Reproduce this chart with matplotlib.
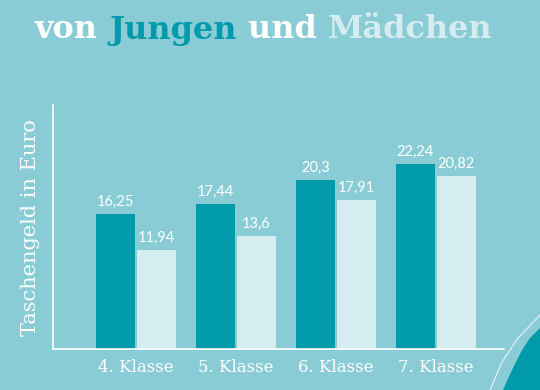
import matplotlib.pyplot as plt
import numpy as np
from matplotlib.patches import Polygon

# data
klassen = ['4. Klasse', '5. Klasse', '6. Klasse', '7. Klasse']
jungen = [16.25, 17.44, 20.3, 22.24]
maedchen = [11.94, 13.6, 17.91, 20.82]

bg = '#8accd6'
teal = '#009aab'
pale = '#d5edf1'

fig = plt.figure(figsize=(5.4, 3.9), dpi=100, facecolor=bg)
ax = fig.add_axes([0.098, 0.105, 0.835, 0.625])
ax.set_facecolor(bg)

x = np.arange(len(klassen))
w = 0.39
b1 = ax.bar(x - 0.205, jungen, w, color=teal)
b2 = ax.bar(x + 0.205, maedchen, w, color=pale)

def fmt(v):
    return ('%g' % v).replace('.', ',')

for bars, vals in ((b1, jungen), (b2, maedchen)):
    for r, v in zip(bars, vals):
        ax.text(r.get_x() + r.get_width() / 2, v + 0.6, fmt(v), ha='center', va='bottom',
                color='white', fontsize=10.5, family='Lato')

ax.set_xlim(-0.83, 3.68)
ax.set_ylim(0, 29.3)
ax.set_xticks(x)
ax.set_xticklabels(klassen, color='white', fontsize=12, family='DejaVu Serif')
ax.tick_params(axis='x', length=0, pad=7)
ax.set_yticks([])
for s in ('top', 'right'):
    ax.spines[s].set_visible(False)
for s in ('left', 'bottom'):
    ax.spines[s].set_color('white')
    ax.spines[s].set_linewidth(1.2)
ax.set_ylabel('Taschengeld in Euro', color='white', fontsize=15, family='DejaVu Serif', labelpad=9)

# title in several colours
words = [('von ', 'white'), ('Jungen ', teal), ('und ', 'white'), ('Mädchen', pale)]
renderer = fig.canvas.get_renderer()
xpos = 35 / 540
for wd, c in words:
    t = fig.text(xpos, 1 - 30 / 390, wd, color=c, fontsize=23, fontweight='bold',
                 family='DejaVu Serif', va='center', ha='left')
    bb = t.get_window_extent(renderer)
    xpos += bb.width / fig.bbox.width

# decoration bottom right
shape = Polygon([(503 / 540, 0), (512 / 540, 20 / 390), (522 / 540, 40 / 390),
                 (530 / 540, 52 / 390), (1, 62 / 390), (1, 0)],
                closed=True, transform=fig.transFigure, color=teal, lw=0)
fig.patches.append(shape)
fig.lines.append(plt.Line2D([490 / 540, 502 / 540, 518 / 540, 540 / 540],
                            [0, 28 / 390, 52 / 390, 75 / 390],
                            transform=fig.transFigure, color='white', lw=0.8, alpha=0.8))

fig.savefig('out.png', dpi=100, facecolor=bg)
